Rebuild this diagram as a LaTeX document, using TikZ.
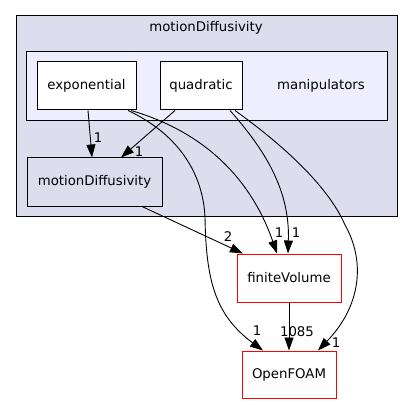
\documentclass[tikz,border=0pt]{standalone}
\usepackage{fontspec}
\setmainfont{DejaVu Sans}
\usetikzlibrary{arrows.meta}
\definecolor{clouter}{HTML}{DDDDEE}
\definecolor{clinner}{HTML}{EEEEFF}
\definecolor{redline}{HTML}{FF0000}
\tikzset{
  box/.style={draw=black,line width=1pt,rectangle,inner sep=0pt,font=\fontsize{13.3}{15}\selectfont},
  redbox/.style={box,draw=redline,fill=white},
  lbl/.style={inner sep=0pt,font=\fontsize{13.3}{15}\selectfont},
  edge/.style={draw=black,line width=0.9pt,-{Triangle[length=13pt,width=9pt]}}
}
\begin{document}
\begin{tikzpicture}[x=1pt,y=-1pt]
\useasboundingbox (0,0) rectangle (413,404);
% clusters
\draw[fill=clouter,line width=1pt] (16,16) rectangle (397,216.5);
\node[lbl] (title) at (206,28) {motionDiffusivity};
\draw[fill=clinner,line width=1pt] (26,52) rectangle (387,121);
\node[lbl] (manip) at (321,86) {manipulators};
% nodes
\node[box,fill=white,minimum width=99pt,minimum height=48pt] (exp) at (86.5,86) {exponential};
\node[box,fill=white,minimum width=82pt,minimum height=48pt] (quad) at (201,86) {quadratic};
\node[box,fill=clouter,minimum width=135pt,minimum height=48pt] (md) at (94.5,182) {motionDiffusivity};
\node[redbox,minimum width=104pt,minimum height=48pt] (fv) at (289,278) {finiteVolume};
\node[redbox,minimum width=94pt,minimum height=47pt] (of) at (289,374.5) {OpenFOAM};
% edges
\draw[edge] ([xshift=1.5pt]exp.south) -- ([xshift=-2.5pt]md.north);
\node[lbl] (l1) at (98,138) {1};
\draw[edge] ([xshift=-26pt]quad.south) -- ([xshift=26.5pt]md.north);
\node[lbl] (l2) at (139,152) {1};
\draw[edge] ([xshift=44.5pt]exp.south) .. controls (215,135) and (255,190) .. ([xshift=-12pt]fv.north);
\node[lbl] (l3) at (279,233) {1};
\draw[edge] ([xshift=29pt]quad.south) .. controls (265,150) and (290,190) .. ([xshift=-1pt]fv.north);
\node[lbl] (l4) at (296,233) {1};
\draw[edge] ([xshift=47.5pt]md.south) -- ([xshift=-46pt]fv.north);
\node[lbl] (l5) at (228,237) {2};
\draw[edge] ([xshift=41.5pt]exp.south) .. controls (180,135) and (203,175) .. (205,217) .. controls (206,280) and (215,315) .. ([xshift=-26pt]of.north);
\node[lbl] (l6) at (257,331) {1};
\draw[edge] ([xshift=34pt]quad.south) .. controls (290,150) and (330,190) .. (345,225) .. controls (365,260) and (362,305) .. ([xshift=29pt]of.north);
\node[lbl] (l7) at (336,343) {1};
\draw[edge] (fv.south) -- (of.north);
\node[lbl] (l8) at (297,332) {1085};
\end{tikzpicture}
\end{document}
